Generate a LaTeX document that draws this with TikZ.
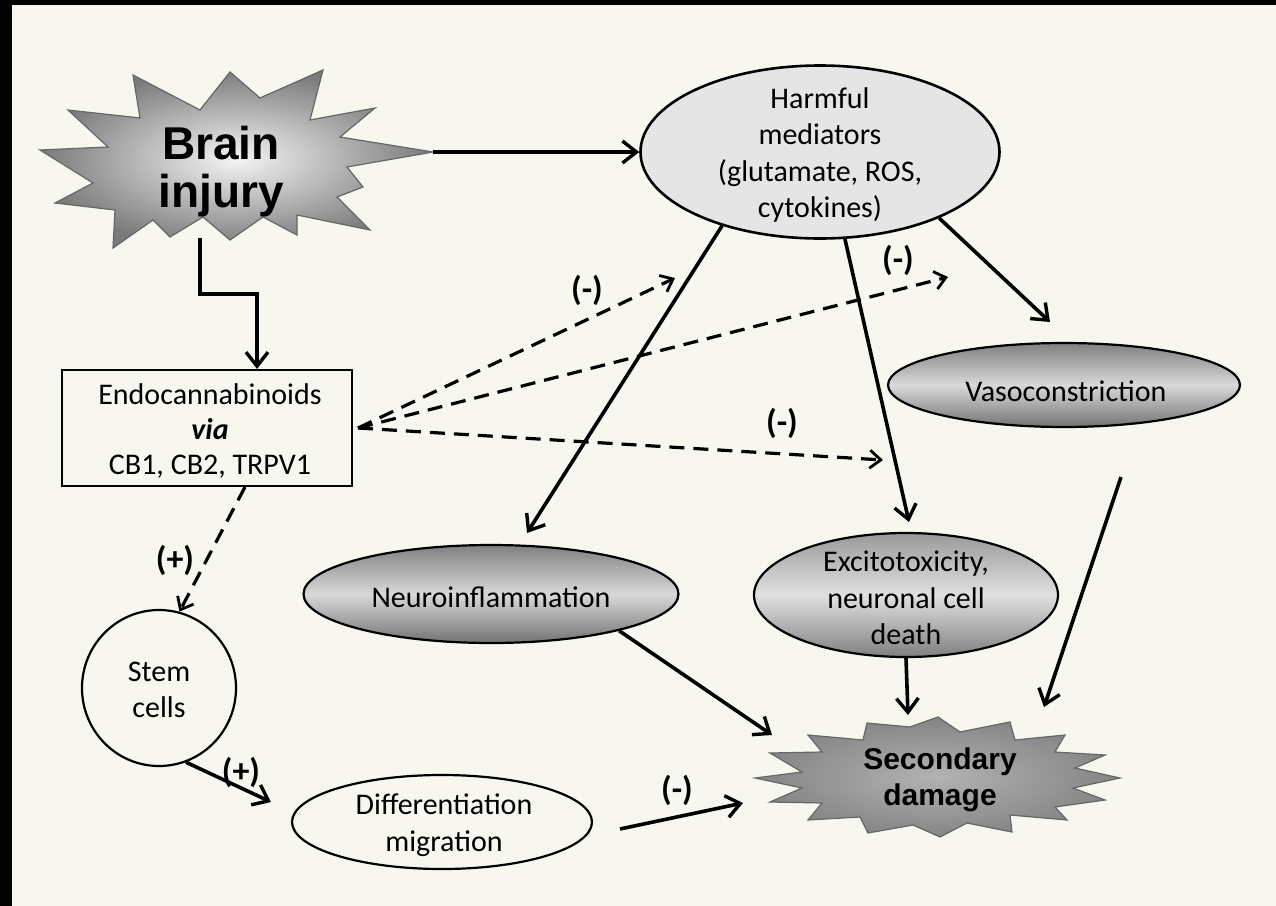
\documentclass[tikz,border=0pt]{standalone}
\usepackage{fontspec}
\setmainfont{Carlito}
\newfontfamily\arialfont{Liberation Sans}
\usetikzlibrary{arrows.meta,shapes.geometric,calc}
\definecolor{bgc}{RGB}{247,247,240}
\begin{document}
\begin{tikzpicture}[x=0.5pt,y=-0.5pt,
  txt/.style={font=\fontsize{15}{18.3}\selectfont, align=center, inner sep=0pt},
  ell/.style={ellipse, draw=black, line width=1.1pt, inner sep=0pt},
  darkell/.style={ell, top color=black!50, bottom color=black!55, middle color=black!15},
  conn/.style={line width=1.8pt, -{Straight Barb[length=7pt,width=11pt,line width=1.7pt]}},
  dconn/.style={line width=1.6pt, dash pattern=on 7.5pt off 4.5pt, -{Straight Barb[length=5.5pt,width=9pt,line width=1.4pt]}},
  sign/.style={font=\fontsize{17}{18}\selectfont\bfseries, inner sep=0pt},
  burst/.style={draw=black!60, line width=0.6pt},
]
\useasboundingbox (0,0) rectangle (1276,906);
\fill[bgc] (0,0) rectangle (1276,906);
\fill[black] (0,0) rectangle (12,906);
\fill[black] (0,0) rectangle (1276,5);

% Brain injury burst
\shade[burst, inner color=black!4, outer color=black!52]
 (40,150) -- (108,147) -- (68,110) -- (140,118) -- (133,75) -- (200,110) -- (230,72) -- (260,98)
 -- (323,70) -- (310,120) -- (375,108) -- (340,137) -- (433,152) -- (347,167) -- (363,187)
 -- (337,197) -- (370,230) -- (297,215) -- (297,235) -- (263,217) -- (230,240) -- (203,217)
 -- (170,237) -- (153,220) -- (113,248) -- (115,210) -- (55,203) -- (93,183) -- cycle;
\node[font=\arialfont\bfseries\fontsize{23}{24}\selectfont, align=center, inner sep=0pt] (brain) at (221,172) {Brain\\injury};

% Secondary damage burst
\shade[burst, inner color=black!30, outer color=black!48]
 (755,778) -- (802,772) -- (770,753) -- (822,752) -- (808,735) -- (863,740) -- (867,723)
 -- (910,727) -- (938,717) -- (960,732) -- (1010,722) -- (1015,740) -- (1065,735) -- (1055,752)
 -- (1105,755) -- (1075,768) -- (1120,778) -- (1073,788) -- (1105,800) -- (1055,807) -- (1067,820)
 -- (1010,815) -- (1012,832) -- (967,823) -- (940,837) -- (913,825) -- (868,833) -- (860,817)
 -- (808,820) -- (822,803) -- (770,802) -- (802,788) -- cycle;
\node[font=\arialfont\bfseries\fontsize{15}{18}\selectfont, align=center, inner sep=0pt] (sec) at (940,780) {Secondary\\damage};

% Nodes
\node[ell, fill=black!10, line width=1.3pt, minimum width=179.5pt, minimum height=86.5pt] (harm) at (820,152) {};
\node[txt] (harmT) at (820,155) {Harmful\\mediators\\(glutamate, ROS,\\cytokines)};

\node[darkell, minimum width=176pt, minimum height=42pt] (vaso) at (1064,385) {};
\node[txt] (vasoT) at (1066,391) {Vasoconstriction};

\node[darkell, minimum width=187.5pt, minimum height=49pt] (neuro) at (491,594) {};
\node[txt] (neuroT) at (491,597) {Neuroinflammation};

\node[ell, top color=black!40, bottom color=black!50, middle color=black!12, minimum width=152pt, minimum height=62pt] (excit) at (906,595) {};
\node[txt] (excitT) at (906,598) {Excitotoxicity,\\neuronal cell\\death};

\node[ell, minimum width=150pt, minimum height=47pt] (diff) at (442,822) {};
\node[txt] (diffT) at (444,825) {Differentiation\\migration};

\node[ell, minimum width=77pt, minimum height=78pt] (stem) at (159,688) {};
\node[txt] (stemT) at (159,690) {Stem\\cells};

\node[draw, line width=1.1pt, minimum width=145pt, minimum height=58pt, inner sep=0pt] (endo) at (207,428) {};
\node[txt, font=\fontsize{15}{17.5}\selectfont] (endoT) at (210,431) {Endocannabinoids\\\textbf{\textit{via}}\\CB1, CB2, TRPV1};

% Coordinates for free ends
\coordinate (brainE) at (433,152);
\coordinate (brainS) at (200,238);
\coordinate (elb) at (257,294);
\coordinate (endoE) at (358,428);
\coordinate (endoS) at (245,487);
\coordinate (dA) at (675,278);
\coordinate (dB) at (948,277);
\coordinate (dC) at (883,460);
\coordinate (neuroIn) at (527,533);
\coordinate (excitIn) at (909,522);
\coordinate (vasoIn) at (1050,322);
\coordinate (vasoOut) at (1121,477);
\coordinate (secN) at (908,715);
\coordinate (secNE) at (1044,707);
\coordinate (secNW) at (772,735);
\coordinate (secW) at (743,803);
\coordinate (diffOut) at (620,829);
\coordinate (diffIn) at (271,802);

% Connectors
\draw[conn] (brainE) -- (harm.west);
\draw[conn] (brainS) |- (elb) -- (elb |- endo.north);
\draw[dconn] (endoE) -- (dA);
\draw[dconn] (endoE) -- (dB);
\draw[dconn] (endoE) -- (dC);
\draw[dconn] (endoS) -- (stem.75);
\draw[conn] (stem.-70) -- (diffIn);
\draw[conn] (harm.217) -- (neuroIn);
\draw[conn] (harm.-74) -- (excitIn);
\draw[conn] (harm.-29) -- (vasoIn);
\draw[conn] (vasoOut) -- (secNE);
\draw[conn] (excit.south) -- (secN);
\draw[conn] (neuro.-16) -- (secNW);
\draw[conn] (diffOut) -- (secW);

% Signs
\node[sign] (sA) at (587,290) {(-)};
\node[sign] (sB) at (898,260) {(-)};
\node[sign] (sC) at (782,423) {(-)};
\node[sign] (sD) at (677,790) {(-)};
\node[sign] (sE) at (175,560) {(+)};
\node[sign] (sF) at (241,772) {(+)};
\end{tikzpicture}
\end{document}
